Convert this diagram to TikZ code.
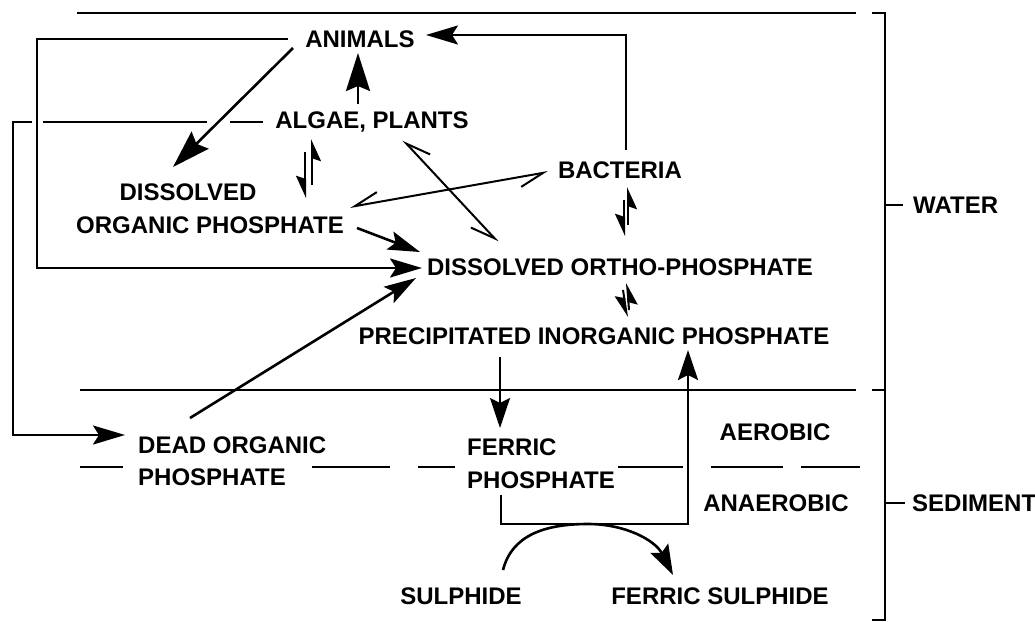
\documentclass[tikz,border=0pt]{standalone}
\usepackage{fontspec}
\setmainfont{Liberation Sans}
\usetikzlibrary{arrows.meta}
\newcommand\lblfont{\fontsize{24}{26}\selectfont\bfseries}
\begin{document}
\begin{tikzpicture}[x=1pt,y=-1pt,
  lbl/.style={font=\lblfont, inner sep=0pt, text=black},
  ln/.style={line width=2.6pt, draw=black},
  thinln/.style={line width=2.1pt, draw=black},
  headL/.style={-{Stealth[length=38pt,width=24pt,inset=5pt]}},
  headM/.style={-{Stealth[length=32pt,width=19pt,inset=6pt]}},
  headS/.style={-{Stealth[length=30pt,width=20pt,inset=5pt]}},
  harp/.style={line width=2pt, -{Stealth[harpoon,swap,length=20pt,width=18pt,inset=3pt]}},
  dharp/.style={line width=2pt, {Straight Barb[harpoon,swap,length=24pt,width=20pt]}-{Straight Barb[harpoon,swap,length=24pt,width=20pt]}},
]
\fill[white] (0,0) rectangle (1035,621);
\useasboundingbox (0,0) rectangle (1035,621);

% labels
\node[lbl] (animals) at (360,39) {ANIMALS};
\node[lbl] (algae) at (372,122) {ALGAE, PLANTS};
\node[lbl] (dopA) at (188,192) {DISSOLVED};
\node[lbl] (dopB) at (210,225) {ORGANIC PHOSPHATE};
\node[lbl] (bact) at (620,170) {BACTERIA};
\node[lbl,anchor=west] (water) at (913,205) {WATER};
\node[lbl] (ortho) at (620,267) {DISSOLVED ORTHO-PHOSPHATE};
\node[lbl] (precip) at (594,336) {PRECIPITATED INORGANIC PHOSPHATE};
\node[lbl,anchor=west] (deadA) at (138,445) {DEAD ORGANIC};
\node[lbl,anchor=west] (deadB) at (138,477) {PHOSPHATE};
\node[lbl,anchor=west] (ferA) at (467,447) {FERRIC};
\node[lbl,anchor=west] (ferB) at (467,480) {PHOSPHATE};
\node[lbl] (aerobic) at (775,432) {AEROBIC};
\node[lbl] (anaerobic) at (776,503) {ANAEROBIC};
\node[lbl,anchor=west] (sediment) at (912,503) {SEDIMENT};
\node[lbl] (sulphide) at (461,596) {SULPHIDE};
\node[lbl] (fersul) at (720,596) {FERRIC SULPHIDE};

% layer lines
\draw[ln] (77,13) -- (856,13);
\draw[ln] (80,390) -- (856,390);
\foreach \a/\b in {80/123,312/390,418/455,618/683,711/783,801/860}
  \draw[ln] (\a,467) -- (\b,467);

% bracket
\draw[ln] (872,13) -- (885,13) -- (885,620) -- (872,620);
\draw[ln] (872,390) -- (885,390);
\draw[ln] (885,205) -- ([xshift=-10pt]water.west);
\draw[ln] (885,503) -- ([xshift=-7pt]sediment.west);

% connectors
\coordinate (animalsL) at (288,39);
\coordinate (loopTL) at (37,39);
\coordinate (loopBL) at (37,268);
\coordinate (orthoIn) at (422,268);
\draw[ln,headL] (293,48) -- (173,167);
\draw[ln,headL] (358,104) -- (358,53);
\draw[ln,headM] (animalsL) -- (loopTL) -- (loopBL) -- (orthoIn);
\draw[ln,headM] (357,228) -- (420,252);
\draw[ln,headM] (190,418) -- (416,278);

\draw[ln] (263,122) -- (230,122);
\draw[ln] (207,122) -- (43,122);
\draw[ln,headM] (32,122) -- (13,122) -- (13,435) -- (125,435);

\draw[thinln,headM] (626,150) -- (626,35) -- (426,35);
\draw[thinln,headS] (500,357) -- (500,428);
\draw[ln,headS] (501,495) -- (501,524) -- (688,524) -- (688,350);
\draw[ln,headS] (503,570) .. controls (512,535) and (545,524) .. (588,524)
  .. controls (625,524) and (655,540) .. (673,575);

% equilibria
\draw[harp] (312,185) -- (312,139);
\draw[harp] (305,152) -- (305,198);
\draw[harp] (628,225) -- (628,187);
\draw[harp] (624,200) -- (624,236);
\draw[harp] (629,310) -- (627,283);
\draw[harp] (623,290) -- (627,317);
\draw[dharp] (403,140) -- (498,242);
\draw[dharp] (350,207) -- (548,172);
\end{tikzpicture}
\end{document}
